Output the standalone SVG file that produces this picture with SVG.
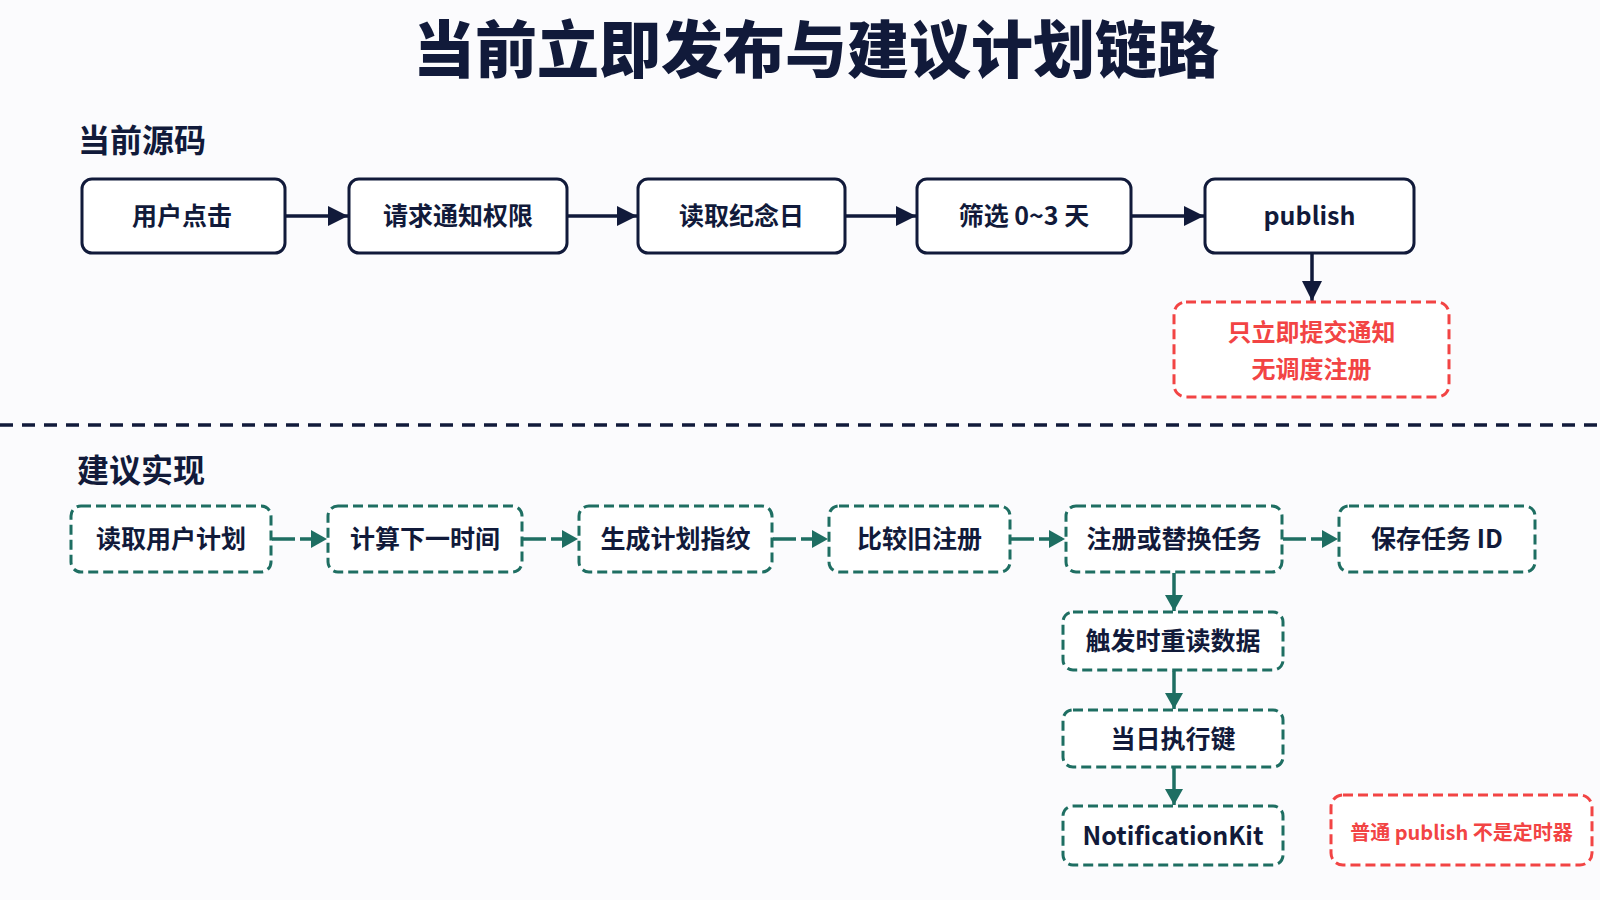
<svg xmlns="http://www.w3.org/2000/svg" width="1600" height="900" viewBox="0 0 1600 900">
<style>
  text { font-family: "Noto Sans CJK SC", "Noto Sans", sans-serif; dominant-baseline: central; text-anchor: middle; }
  .title { font-size: 62px; font-weight: 900; fill: #111a3a; }
  .h { font-size: 32px; font-weight: 700; fill: #111a3a; text-anchor: start; }
  .box { fill: #ffffff; stroke: #111a3a; stroke-width: 3; }
  .gbox { fill: #ffffff; stroke: #1e6e62; stroke-width: 3; stroke-dasharray: 10 5; }
  .rbox { fill: #ffffff; stroke: #f24444; stroke-width: 3; stroke-dasharray: 10 5; }
  .t { font-size: 25px; font-weight: 700; fill: #111a3a; }
  .rt { font-size: 24px; font-weight: 700; fill: #f24444; }
  .rs { font-size: 20px; font-weight: 700; fill: #f24444; }
  .nav { stroke: #111a3a; stroke-width: 3.5; fill: none; marker-end: url(#an); }
  .grn { stroke: #1e6e62; stroke-width: 3.5; fill: none; marker-end: url(#ag); }
  .grnd { stroke: #1e6e62; stroke-width: 3.5; fill: none; stroke-dasharray: 23 5; marker-end: url(#ag); }
</style>
<defs>
  <marker id="an" viewBox="0 0 20 20" refX="20" refY="10" markerWidth="20" markerHeight="20" markerUnits="userSpaceOnUse" orient="auto">
    <path d="M0,0 L20,10 L0,20 z" fill="#111a3a"/>
  </marker>
  <marker id="ag" viewBox="0 0 16 18" refX="16" refY="9" markerWidth="16" markerHeight="18" markerUnits="userSpaceOnUse" orient="auto">
    <path d="M0,0 L16,9 L0,18 z" fill="#1e6e62"/>
  </marker>
</defs>
<rect width="1600" height="900" fill="#fbfbfd"/>

<text class="title" x="816" y="46">当前立即发布与建议计划链路</text>
<text class="h" x="78" y="138">当前源码</text>
<line x1="0" y1="425" x2="1600" y2="425" stroke="#111a3a" stroke-width="3.5" stroke-dasharray="13 9"/>
<text class="h" x="77" y="468">建议实现</text>

<g id="connectors">
  <line class="nav" x1="286" y1="216" x2="348" y2="216"/>
  <line class="nav" x1="568" y1="216" x2="637" y2="216"/>
  <line class="nav" x1="846" y1="216" x2="916" y2="216"/>
  <line class="nav" x1="1132" y1="216" x2="1204" y2="216"/>
  <line class="nav" x1="1312" y1="254" x2="1312" y2="301"/>

  <line class="grnd" x1="272" y1="539" x2="327" y2="539"/>
  <line class="grnd" x1="523" y1="539" x2="578" y2="539"/>
  <line class="grnd" x1="773" y1="539" x2="828" y2="539"/>
  <line class="grnd" x1="1011" y1="539" x2="1065" y2="539"/>
  <line class="grnd" x1="1283" y1="539" x2="1338" y2="539"/>
  <line class="grn" x1="1174" y1="573" x2="1174" y2="611"/>
  <line class="grn" x1="1174" y1="671" x2="1174" y2="709"/>
  <line class="grn" x1="1174" y1="768" x2="1174" y2="805"/>
</g>

<g id="n_click"><rect class="box" x="82" y="179" width="203" height="74" rx="10"/><text class="t" x="182" y="214">用户点击</text></g>
<g id="n_perm"><rect class="box" x="349" y="179" width="218" height="74" rx="10"/><text class="t" x="458" y="214">请求通知权限</text></g>
<g id="n_read"><rect class="box" x="638" y="179" width="207" height="74" rx="10"/><text class="t" x="741.5" y="214">读取纪念日</text></g>
<g id="n_filter"><rect class="box" x="917" y="179" width="214" height="74" rx="10"/><text class="t" x="1024" y="214">筛选 0~3 天</text></g>
<g id="n_publish"><rect class="box" x="1205" y="179" width="209" height="74" rx="10"/><text class="t" x="1309.5" y="214">publish</text></g>
<g id="n_note1"><rect class="rbox" x="1174" y="302" width="275" height="95" rx="12"/><text class="rt" x="1311.5" y="330">只立即提交通知</text><text class="rt" x="1311.5" y="367">无调度注册</text></g>

<g id="m_readplan"><rect class="gbox" x="71" y="506" width="200" height="66" rx="10"/><text class="t" x="171" y="537">读取用户计划</text></g>
<g id="m_next"><rect class="gbox" x="328" y="506" width="194" height="66" rx="10"/><text class="t" x="425" y="537">计算下一时间</text></g>
<g id="m_fp"><rect class="gbox" x="579" y="506" width="193" height="66" rx="10"/><text class="t" x="675.5" y="537">生成计划指纹</text></g>
<g id="m_cmp"><rect class="gbox" x="829" y="506" width="181" height="66" rx="10"/><text class="t" x="919.5" y="537">比较旧注册</text></g>
<g id="m_reg"><rect class="gbox" x="1066" y="506" width="216" height="66" rx="10"/><text class="t" x="1174" y="537">注册或替换任务</text></g>
<g id="m_save"><rect class="gbox" x="1339" y="506" width="196" height="66" rx="10"/><text class="t" x="1437" y="537">保存任务 ID</text></g>
<g id="m_trigger"><rect class="gbox" x="1063" y="612" width="220" height="58" rx="10"/><text class="t" x="1173" y="639">触发时重读数据</text></g>
<g id="m_key"><rect class="gbox" x="1063" y="710" width="220" height="57" rx="10"/><text class="t" x="1173" y="737">当日执行键</text></g>
<g id="m_kit"><rect class="gbox" x="1063" y="806" width="220" height="59" rx="10"/><text class="t" x="1173" y="834">NotificationKit</text></g>
<g id="n_note2"><rect class="rbox" x="1331" y="795" width="261" height="70" rx="12"/><text class="rs" x="1461.5" y="831">普通 publish 不是定时器</text></g>
</svg>
